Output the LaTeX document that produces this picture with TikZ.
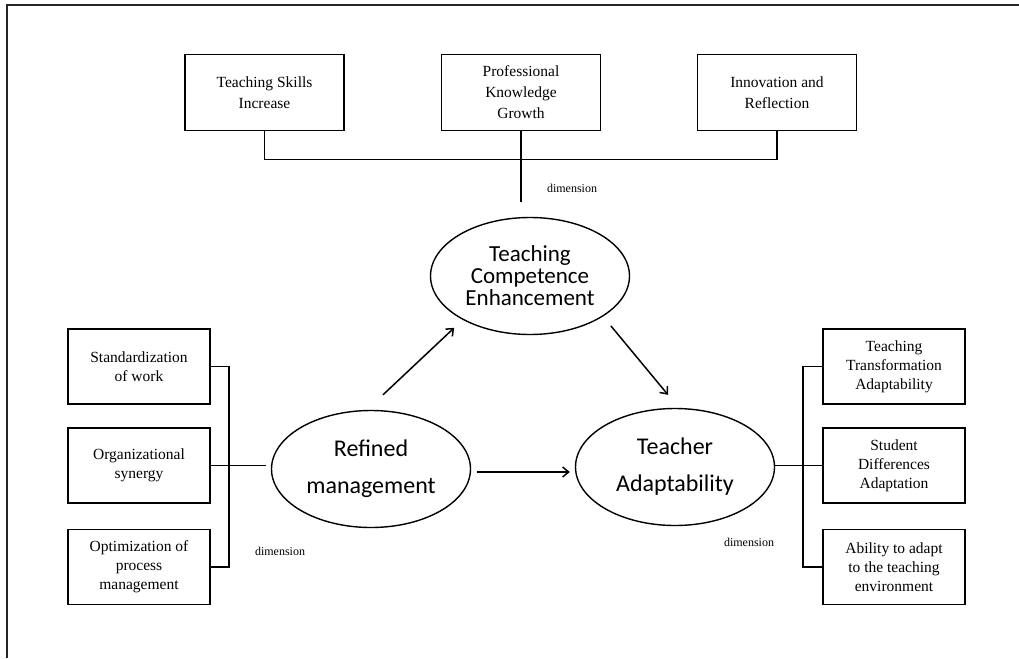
\documentclass[tikz,border=0pt]{standalone}
\usepackage{fontspec}
\setmainfont{Liberation Serif}
\newfontfamily\calib{Carlito}
\usetikzlibrary{arrows.meta,positioning,calc,shapes.geometric}

\begin{document}
\begin{tikzpicture}[x=1pt,y=-1pt,
  dimbox/.style={draw,line width=1.6pt,minimum width=159pt,minimum height=76pt,
    align=center,inner sep=2pt,font=\fontsize{15.5}{21}\selectfont},
  sidebox/.style={dimbox,minimum width=142pt,minimum height=75pt,font=\fontsize{15.5}{19}\selectfont},
  construct/.style={draw,ellipse,line width=1.4pt,minimum width=199pt,minimum height=117pt,
    inner sep=0pt,align=center,font=\calib\fontsize{24}{37}\selectfont},
  dimlabel/.style={font=\fontsize{12}{14}\selectfont,inner sep=0pt},
  link/.style={line width=1.6pt},
  effect/.style={line width=1.5pt,-{Straight Barb[length=6pt,width=10pt]}}]
\useasboundingbox (0,0) rectangle (1019,658);
\draw[line width=1.8pt,black!85] (7,658) -- (7,5) -- (1019,5);

% dimensions of competence
\node[dimbox] (tsk) at (264.5,92.5) {Teaching Skills\\Increase};
\node[dimbox] (pkg) at (521,92.5) {Professional\\Knowledge\\Growth};
\node[dimbox] (inr) at (777,92.5) {Innovation and\\Reflection};
\coordinate (hub) at (521,202);
\draw[link] (tsk.south) -- ++(0,28) -| (inr.south);
\draw[link] (pkg.south) -- (hub);
\node[dimlabel] (dtop) at (572,188) {dimension};

% the three constructs
\node[construct,font=\calib\fontsize{23}{22}\selectfont] (tce) at (530,276) {Teaching\\Competence\\Enhancement};
\node[construct] (rfm) at (371,469) {Refined\\management};
\node[construct] (tad) at (675,467) {Teacher\\Adaptability};

\draw[effect] ($(rfm.north)+(12,-15)$) -- ($(tce.south west)+(-5,10)$);
\draw[effect] ($(tce.south east)+(10,8)$) -- ($(tad.north)+(-7,-13)$);
\draw[effect] ($(rfm.east)+(6,3)$) -- ($(tad.west)+(-5,5)$);

% management side
\node[sidebox] (sow) at (139,366.5) {Standardization\\of work};
\node[sidebox] (osy) at (139,465.5) {Organizational\\synergy};
\node[sidebox] (opm) at (139,567) {Optimization of\\process\\management};
\draw[link] (sow.east) -- ++(18,0) |- (opm.east);
\draw[link,shorten >=5pt] (osy.east) -- (osy.east -| rfm.west);
\node[dimlabel] (dleft) at (280,551) {dimension};

% adaptability side
\node[sidebox] (tta) at (894,366.5) {Teaching\\Transformation\\Adaptability};
\node[sidebox] (sda) at (894,465.5) {Student\\Differences\\Adaptation};
\node[sidebox] (aat) at (894,567) {Ability to adapt\\to the teaching\\environment};
\draw[link] (tta.west) -- ++(-19,0) |- (aat.west);
\draw[link] (sda.west) -- (sda.west -| tad.east);
\node[dimlabel] (dright) at (749,542) {dimension};
\end{tikzpicture}
\end{document}
